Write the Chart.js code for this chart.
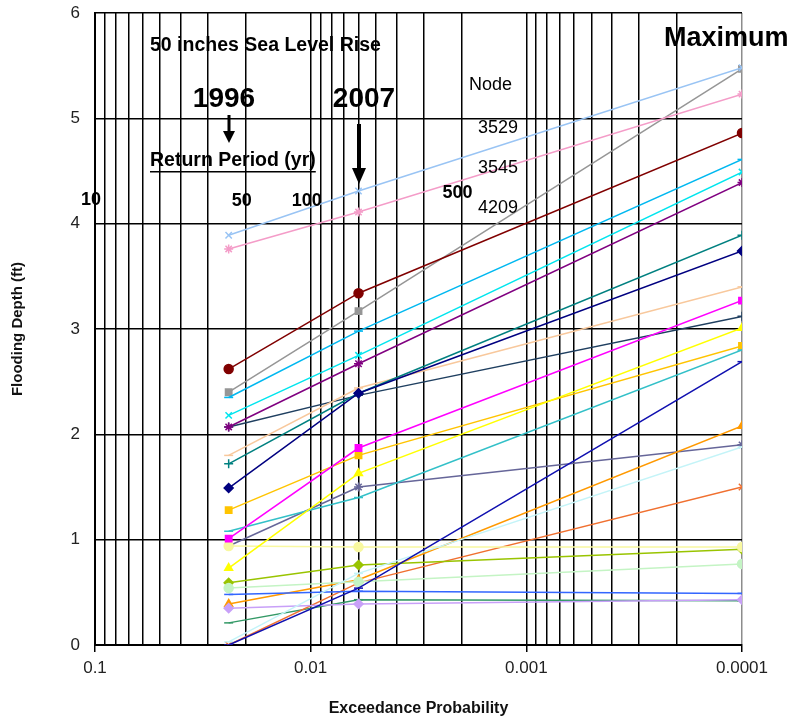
<!DOCTYPE html>
<html><head><meta charset="utf-8">
<script src="https://cdn.jsdelivr.net/npm/chart.js@4/dist/chart.umd.min.js"></script>
<style>html,body{margin:0;padding:0;background:#fff}canvas{display:block}</style>
</head><body>
<canvas id="c" width="794" height="723"></canvas>
<script>
// ---- data ----
const probabilities = [0.024, 0.006, 0.0001];   // exceedance probability (1996, 2007, maximum)
const navy       = [1.49, 2.39, 3.74];
const magenta    = [1.01, 1.87, 3.27];
const yellow     = [0.73, 1.63, 3.01];
const cyan       = [2.18, 2.75, 4.49];
const purple     = [2.07, 2.67, 4.39];
const maroon     = [2.62, 3.34, 4.86];
const teal       = [1.72, 2.39, 3.89];
const blue       = [0.00, 0.54, 2.69];
const skyBlue    = [2.35, 2.98, 4.61];
const paleCyan   = [0.03, 0.68, 1.88];
const paleGreen  = [0.54, 0.60, 0.77];
const paleYellow = [0.94, 0.93, 0.93];
const node3529   = [3.89, 4.31, 5.48];
const node3545   = [3.76, 4.11, 5.23];
const lavender   = [0.35, 0.39, 0.43];
const tan        = [1.80, 2.44, 3.40];
const royalBlue  = [0.48, 0.51, 0.49];
const aqua       = [1.08, 1.40, 2.80];
const lime       = [0.59, 0.76, 0.91];
const gold       = [1.28, 1.80, 2.84];
const lightOrange= [0.39, 0.62, 2.08];
const orange     = [0.00, 0.59, 1.50];
const blueGray   = [0.94, 1.50, 1.90];
const node4209   = [2.40, 3.17, 5.47];
const darkTeal   = [2.07, 2.37, 3.12];
const seaGreen   = [0.21, 0.43, 0.42];
const depthTicks = [0, 1, 2, 3, 4, 5, 6];
const probMajorTicks = [0.1, 0.01, 0.001, 0.0001];
const probTickLabels = ['0.1', '0.01', '0.001', '0.0001'];
const returnPeriods = ['10', '50', '100', '500'];
const nodeLabels = ['3529', '3545', '4209'];

// ---- series styling ----
const seriesDefs = [
  [navy,       '#000080', 'rectRot'],
  [magenta,    '#FF00FF', 'rect'],
  [yellow,     '#FFFF00', 'triangle'],
  [cyan,       '#00E5EE', 'crossRot'],
  [purple,     '#800080', 'star'],
  [maroon,     '#800000', 'circle'],
  [teal,       '#008080', 'cross'],
  [blue,       '#1010B0', 'line'],
  [skyBlue,    '#00B8F0', 'line'],
  [paleCyan,   '#C4F4F8', 'line'],
  [paleGreen,  '#C4F4C4', 'circle'],
  [paleYellow, '#F8F8A0', 'circle'],
  [node3529,   '#99C4F4', 'crossRot'],
  [node3545,   '#F49CC8', 'star'],
  [lavender,   '#C8A0F8', 'rectRot'],
  [tan,        '#F8C89C', 'line'],
  [royalBlue,  '#3366FF', 'line'],
  [aqua,       '#33C0C8', 'line'],
  [lime,       '#99C400', 'rectRot'],
  [gold,       '#FFC400', 'rect'],
  [lightOrange,'#FF9900', 'triangle'],
  [orange,     '#F07030', 'crossRot'],
  [blueGray,   '#666699', 'star'],
  [node4209,   '#969696', 'rect'],
  [darkTeal,   '#1F3F60', 'cross'],
  [seaGreen,   '#339966', 'line']
];

const datasets = seriesDefs.map(([vals, color, marker]) => ({
  data: probabilities.map((p, i) => ({ x: p, y: vals[i] })),
  borderColor: color,
  backgroundColor: color,
  pointBorderColor: color,
  pointBackgroundColor: color,
  pointStyle: marker,
  pointRadius: 4.5,
  pointBorderWidth: 1.5,
  borderWidth: 1.5,
  tension: 0,
  fill: false
}));

function isMajor(v) {
  const l = Math.log10(v);
  return Math.abs(l - Math.round(l)) < 1e-9;
}

const FONT = '"Liberation Sans", Arial, sans-serif';

const annotations = {
  id: 'annotations',
  afterDraw(chart) {
    const ctx = chart.ctx;
    const xs = chart.scales.x;
    ctx.save();
    ctx.fillStyle = '#000';
    ctx.strokeStyle = '#000';
    ctx.textBaseline = 'middle';

    // Title lines
    ctx.font = 'bold 19.5px ' + FONT;
    ctx.textAlign = 'left';
    ctx.fillText('50 inches Sea Level Rise', 150, 46);

    ctx.font = 'bold 28px ' + FONT;
    ctx.textAlign = 'center';
    ctx.fillText('1996', 224, 99);
    ctx.fillText('2007', 364, 99);

    // arrows pointing at 1996 and 2007 columns
    function arrow(x, y0, y1, shaft, headW, headH) {
      ctx.fillRect(x - shaft / 2, y0, shaft, (y1 - y0) - headH + 1);
      ctx.beginPath();
      ctx.moveTo(x - headW / 2, y1 - headH);
      ctx.lineTo(x + headW / 2, y1 - headH);
      ctx.lineTo(x, y1);
      ctx.closePath();
      ctx.fill();
    }
    arrow(Math.round(xs.getPixelForValue(probabilities[0])), 115, 143, 3, 12, 12);
    arrow(Math.round(xs.getPixelForValue(probabilities[1])), 124, 184, 4, 14, 16);

    // Return period
    ctx.font = 'bold 19.5px ' + FONT;
    ctx.textAlign = 'left';
    const rp = 'Return Period (yr)';
    ctx.fillText(rp, 150, 161);
    const w = ctx.measureText(rp).width;
    ctx.fillRect(150, 171, w, 1.5);

    ctx.font = 'bold 18px ' + FONT;
    ctx.textAlign = 'center';
    const rpY = [200, 201, 201, 193];
    returnPeriods.forEach((t, i) => {
      const px = xs.getPixelForValue(1 / Number(t)) - 4;
      ctx.fillText(t, px, rpY[i]);
    });

    // Node labels
    ctx.font = '18px ' + FONT;
    ctx.textAlign = 'left';
    ctx.fillText('Node', 469, 85);
    const nodeY = [128, 168, 208];
    nodeLabels.forEach((t, i) => ctx.fillText(t, 478, nodeY[i]));

    // Maximum
    ctx.font = 'bold 27px ' + FONT;
    ctx.textAlign = 'left';
    ctx.fillText('Maximum', 664, 39);
    ctx.restore();
  }
};

new Chart(document.getElementById('c'), {
  type: 'line',
  data: { datasets },
  plugins: [annotations],
  options: {
    responsive: false,
    animation: false,
    devicePixelRatio: 1,
    layout: { padding: { left: 0, top: 13, right: 52, bottom: 0 } },
    plugins: { legend: { display: false }, tooltip: { enabled: false } },
    scales: {
      x: {
        type: 'logarithmic',
        reverse: true,
        min: 0.0001,
        max: 0.1,
        afterBuildTicks(scale) {
          const t = [];
          for (let e = -4; e <= -2; e++) {
            for (let m = 1; m <= 9; m++) t.push({ value: m * Math.pow(10, e) });
          }
          t.push({ value: 0.1 });
          scale.ticks = t;
        },
        afterFit(scale) { scale.height = 78; },
        border: { display: true, color: '#000', width: 2 },
        grid: {
          color: c => (c.tick && Math.abs(c.tick.value - 0.0001) < 1e-12) ? '#8c8c8c' : '#000',
          lineWidth: 1.5,
          drawTicks: true,
          tickLength: 7,
          tickWidth: 1.5,
          tickColor: c => (c.tick && isMajor(c.tick.value)) ? '#000' : 'rgba(0,0,0,0)'
        },
        ticks: {
          autoSkip: false,
          maxRotation: 0,
          padding: 6,
          color: '#222',
          font: { family: FONT, size: 17 },
          callback: (v) => {
            const i = probMajorTicks.findIndex(p => Math.abs(p - v) / p < 1e-6);
            return i >= 0 ? probTickLabels[i] : '';
          }
        },
        title: {
          display: true,
          text: 'Exceedance Probability',
          color: '#111',
          font: { family: FONT, size: 16, weight: 'bold' },
          padding: { top: 0, bottom: 5 }
        }
      },
      y: {
        min: 0,
        max: 6,
        afterBuildTicks(scale) { scale.ticks = depthTicks.map(v => ({ value: v })); },
        afterFit(scale) { scale.width = 95; scale.paddingTop = 0; scale.paddingBottom = 0; },
        border: { display: true, color: '#000', width: 2 },
        grid: { color: '#000', lineWidth: 1.5, drawTicks: false },
        ticks: {
          padding: 15,
          color: '#222',
          font: { family: FONT, size: 17 },
          callback: v => String(v)
        },
        title: {
          display: true,
          text: 'Flooding Depth (ft)',
          color: '#111',
          font: { family: FONT, size: 15, weight: 'bold' },
          padding: { top: 9, bottom: 0 }
        }
      }
    }
  }
});
</script>
</body></html>
